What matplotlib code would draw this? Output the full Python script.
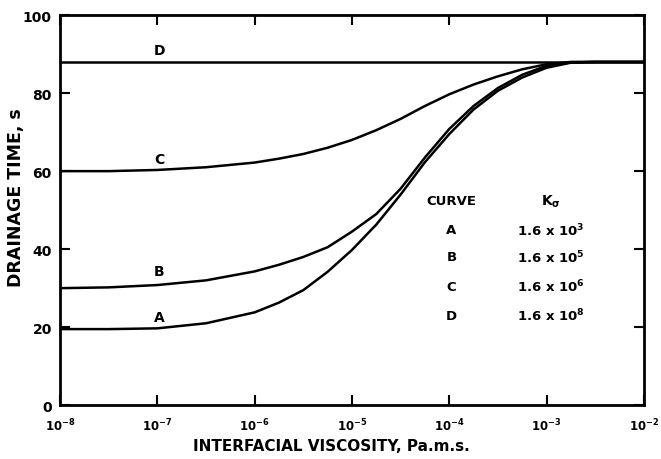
import numpy as np
import matplotlib
matplotlib.use("Agg")
import matplotlib.pyplot as plt

# interfacial viscosity grid, as powers of ten (Pa.m.s)
log_visc = [-8, -7.5, -7, -6.5, -6, -5.75, -5.5, -5.25, -5, -4.75,
            -4.5, -4.25, -4, -3.75, -3.5, -3.25, -3, -2.75, -2.5, -2]

# drainage time, s
curve_a = [19.5, 19.5, 19.7, 21, 23.8, 26.3, 29.5, 34.2, 39.8, 46.3,
           54, 62.3, 69.5, 75.8, 80.6, 84, 86.5, 87.8, 88, 88]
curve_b = [30, 30.2, 30.8, 32, 34.3, 36, 38, 40.5, 44.5, 49,
           55.5, 63.5, 70.8, 76.7, 81.3, 84.7, 87, 87.9, 88, 88]
curve_c = [60, 60, 60.3, 61, 62.2, 63.2, 64.4, 66, 68, 70.5,
           73.4, 76.7, 79.7, 82.2, 84.3, 86.1, 87.4, 88, 88, 88]
curve_d = [88] * len(log_visc)

curve_names = ["A", "B", "C", "D"]
k_sigma_exp = [3, 5, 6, 8]

x_ticks = [-8, -7, -6, -5, -4, -3, -2]
y_ticks = [0, 20, 40, 60, 80, 100]

plt.rcParams["font.family"] = "DejaVu Sans"
plt.rcParams["font.weight"] = "bold"

fig = plt.figure(figsize=(6.61, 4.6), dpi=100)
ax = fig.add_axes([0.091, 0.117, 0.883, 0.848])

x = 10.0 ** np.array(log_visc)
for ys in (curve_a, curve_b, curve_c, curve_d):
    ax.plot(x, ys, color="black", lw=1.8, solid_capstyle="butt")

ax.set_xscale("log")
ax.set_xlim(1e-8, 1e-2)
ax.set_ylim(0, 100)

ax.set_xticks([10.0 ** e for e in x_ticks])
ax.set_xticklabels([r"$\mathbf{10^{%d}}$" % e for e in x_ticks])
ax.xaxis.set_minor_locator(matplotlib.ticker.NullLocator())
ax.set_yticks(y_ticks)
ax.set_yticklabels([str(v) for v in y_ticks])

ax.tick_params(direction="in", length=7, width=1.5, top=True, right=True,
               labelsize=10, pad=6)
ax.tick_params(axis="x", labelsize=8.5, pad=8)
for side in ax.spines.values():
    side.set_linewidth(2)

# curve labels
label_y = {"A": 22.5, "B": 34.5, "C": 63, "D": 91}
for name in curve_names:
    ax.text(1.05e-7, label_y[name], name, ha="center", va="center",
            fontsize=10, fontweight="bold")

# K_sigma table
ax.text(1.05e-4, 52.5, "CURVE", ha="center", va="center", fontsize=9.5,
        fontweight="bold")
ax.text(1.1e-3, 52.5, r"$\mathbf{K_{\sigma}}$", ha="center", va="center",
        fontsize=10)
row_y = [45, 38, 30.5, 23]
for name, e, yy in zip(curve_names, k_sigma_exp, row_y):
    ax.text(1.05e-4, yy, name, ha="center", va="center", fontsize=9.5,
            fontweight="bold")
    ax.text(1.1e-3, yy, r"$\mathbf{1.6\ x\ 10^{%d}}$" % e, ha="center",
            va="center", fontsize=9.5)

ax.set_xlabel("INTERFACIAL VISCOSITY, Pa.m.s.", fontsize=11,
              fontweight="bold")
ax.xaxis.set_label_coords(0.465, -0.085)
ax.set_ylabel("DRAINAGE TIME, s", fontsize=12.5, fontweight="bold")
ax.yaxis.set_label_coords(-0.06, 0.535)

fig.savefig("out.png", dpi=100)
